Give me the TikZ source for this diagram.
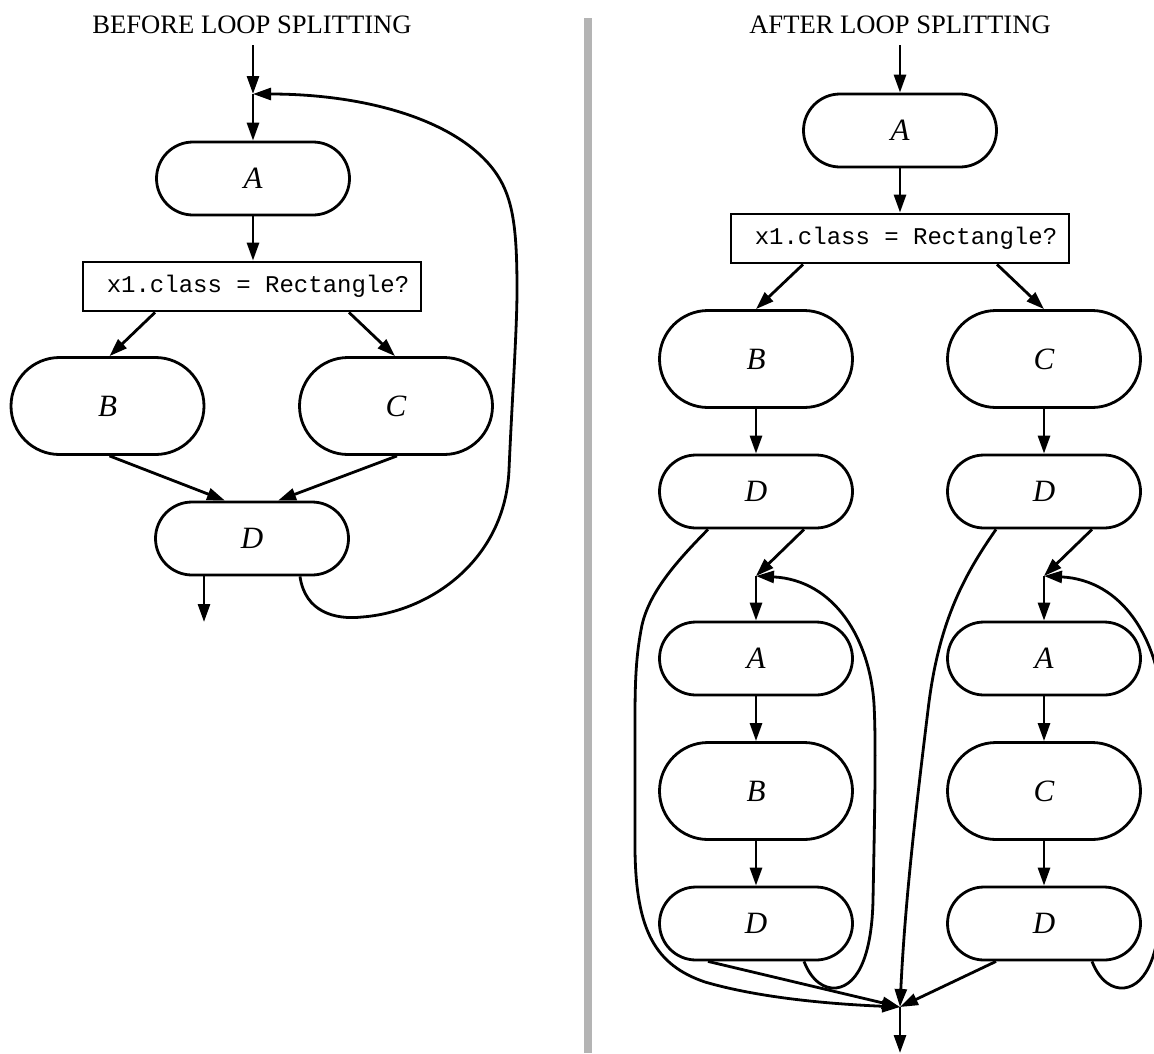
\documentclass[tikz,border=0pt]{standalone}
\usepackage{fontspec}
\setmainfont{Liberation Serif}
\setmonofont{Liberation Mono}
\usetikzlibrary{shapes.misc,arrows.meta,calc}
\definecolor{barcol}{HTML}{B4B4B4}
\begin{document}
\begin{tikzpicture}[x=1pt,y=-1pt,
  term/.style={rounded rectangle, draw, line width=2.8pt, minimum width=193pt, minimum height=73pt, inner sep=0pt, font=\fontsize{31}{36}\selectfont\itshape},
  termb/.style={term, minimum height=97pt},
  cond/.style={rectangle, draw, line width=2.8pt, minimum width=338pt, minimum height=49pt, inner sep=0pt, font=\fontsize{24}{28}\selectfont\ttfamily},
  ttl/.style={font=\fontsize{26.6}{30}\selectfont, anchor=base, inner sep=0pt},
  arr/.style={line width=2.8pt, -{Triangle[length=18pt,width=12pt]}}]
\useasboundingbox (0,0) rectangle (1154,1053);
\clip (0,0) rectangle (1154,1053);
\fill[barcol] (584,18) rectangle (592,1053);

% ---------- left panel ----------
\node[ttl] (T1) at (252,33) {BEFORE LOOP SPLITTING};
\coordinate (S1) at (253,45);
\coordinate (J1) at (253,94);
\node[term] (A1) at (253,178.5) {A};
\node[cond] (X1) at (252,286.5) {\hspace*{12pt}x1.class = Rectangle?};
\node[termb] (B1) at (107.5,406) {B};
\node[termb] (C1) at (396,406) {C};
\node[term] (D1) at (252,538.5) {D};
\coordinate (E1) at (204,622);

\draw[arr] (S1) -- (J1);
\draw[arr] (J1) -- (A1.north);
\draw[arr] (A1.south) -- (A1.south |- X1.north);
\draw[arr] ([xshift=-97pt]X1.south) -- ([xshift=2pt]B1.north);
\draw[arr] ([xshift=97pt]X1.south) -- ([xshift=-1pt]C1.north);
\draw[arr] ([xshift=2pt]B1.south) -- ([xshift=-27pt]D1.north);
\draw[arr] ([xshift=1pt]C1.south) -- ([xshift=26pt]D1.north);
\draw[arr] ([xshift=-48pt]D1.south) -- (E1);
\draw[arr] ([xshift=48pt]D1.south) .. controls (305,612) and (335,620) .. (362,617)
  .. controls (430,612) and (505,560) .. (509,470)
  .. controls (512,400) and (517,330) .. (517,290)
  .. controls (517,220) and (512,190) .. (488,163)
  .. controls (445,115) and (355,94) .. (J1);

% ---------- right panel ----------
\node[ttl] (T2) at (900,33) {AFTER LOOP SPLITTING};
\coordinate (S2) at (900,45);
\node[term] (A2) at (900,130.5) {A};
\node[cond] (X2) at (900,238.5) {\hspace*{12pt}x1.class = Rectangle?};
\node[termb] (B2) at (756,359) {B};
\node[termb] (C2) at (1044,359) {C};
\node[term] (DL) at (756,491.5) {D};
\node[term] (DR) at (1044,491.5) {D};
\coordinate (J2) at (756,576);
\coordinate (J3) at (1044,576);
\node[term] (AL) at (756,658.5) {A};
\node[term] (AR) at (1044,658.5) {A};
\node[termb] (BL) at (756,791) {B};
\node[termb] (CR) at (1044,791) {C};
\node[term] (DL2) at (756,923.5) {D};
\node[term] (DR2) at (1044,923.5) {D};
\coordinate (J4) at (900,1007);
\coordinate (E2) at (900,1053);

\draw[arr] (S2) -- (A2.north);
\draw[arr] (A2.south) -- (X2.north);
\draw[arr] ([xshift=-97pt]X2.south) -- (B2.north);
\draw[arr] ([xshift=97pt]X2.south) -- (C2.north);
\draw[arr] (B2.south) -- (DL.north);
\draw[arr] (C2.south) -- (DR.north);
\draw[arr] ([xshift=48pt]DL.south) -- (J2);
\draw[arr] ([xshift=48pt]DR.south) -- (J3);
\draw[arr] (J2) -- (AL.north);
\draw[arr] (J3) -- (AR.north);
\draw[arr] (AL.south) -- (BL.north);
\draw[arr] (AR.south) -- (CR.north);
\draw[arr] (BL.south) -- (DL2.north);
\draw[arr] (CR.south) -- (DR2.north);
% inner loops
\draw[arr] ([xshift=48pt]DL2.south) .. controls (812,982) and (825,989) .. (836,988)
  .. controls (860,985) and (872,950) .. (873,900)
  .. controls (875,800) and (876,740) .. (874,704)
  .. controls (870,640) and (835,580) .. (J2);
\draw[arr] ([xshift=48pt]DR2.south) .. controls (1100,982) and (1113,989) .. (1124,988)
  .. controls (1148,985) and (1160,950) .. (1161,900)
  .. controls (1163,800) and (1164,740) .. (1162,704)
  .. controls (1158,640) and (1123,580) .. (J3);
% exits to the join
\draw[arr] ([xshift=-48pt]DL.south) .. controls (680,558) and (650,590) .. (642,625)
  .. controls (636,655) and (635,680) .. (635,720)
  -- (635,850)
  .. controls (636,930) and (655,965) .. (705,982)
  .. controls (760,998) and (830,1004) .. (J4);
\draw[arr] ([xshift=-48pt]DL2.south) -- (J4);
\draw[arr] ([xshift=-48pt]DR.south) .. controls (962,578) and (938,625) .. (928,710)
  .. controls (917,800) and (905,900) .. (J4);
\draw[arr] ([xshift=-48pt]DR2.south) -- (J4);
\draw[arr] (J4) -- (E2);
\end{tikzpicture}
\end{document}
